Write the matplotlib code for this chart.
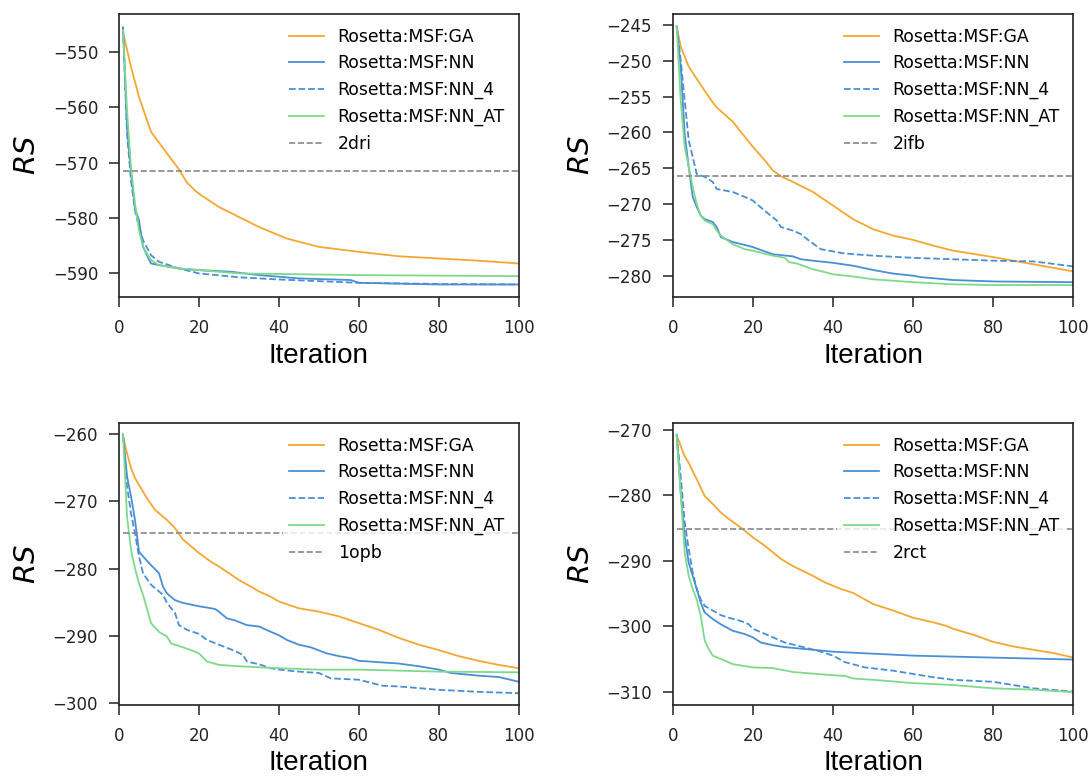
import matplotlib
matplotlib.use("Agg")
import matplotlib.pyplot as plt
from matplotlib.ticker import MultipleLocator

# ---------------- data ----------------
labels = ["Rosetta:MSF:GA", "Rosetta:MSF:NN", "Rosetta:MSF:NN_4", "Rosetta:MSF:NN_AT"]
ref_names = ["2dri", "2ifb", "1opb", "2rct"]
ref_values = [-571.5, -266.1, -274.8, -285.1]

# 2dri
x_2dri_ga = [1, 3, 5, 8, 12, 15, 17, 19, 20, 25, 30, 35, 40, 42, 50, 60, 70, 80, 90, 100]
y_2dri_ga = [-546.4, -552.7, -558.1, -564.4, -568.3, -571.2, -573.6, -575, -575.6, -578, -579.8,
             -581.6, -583.1, -583.7, -585.2, -586.1, -586.9, -587.3, -587.7, -588.2]
x_2dri_nn = [1, 2, 3, 4, 5, 6, 8, 10, 15, 20, 28, 35, 45, 58, 60, 80, 100]
y_2dri_nn = [-545.5, -563.5, -572, -578.3, -580.4, -585.2, -588.2, -588.5, -589.1, -589.4, -589.7,
             -590.3, -590.9, -591.2, -591.7, -592, -592]
x_2dri_nn4 = [1, 2, 3, 4, 5, 6, 8, 10, 15, 20, 30, 40, 60, 80, 100]
y_2dri_nn4 = [-545.5, -564.7, -573.2, -578.6, -581.6, -584, -586.7, -587.9, -589.1, -590, -590.7,
              -591.1, -591.7, -591.9, -592]
x_2dri_at = [1, 2, 3, 4, 5, 6, 8, 10, 15, 20, 30, 40, 60, 100]
y_2dri_at = [-546, -560.5, -570.8, -577.4, -582.2, -585.2, -587.6, -588.5, -589.1, -589.4, -590,
             -590.1, -590.3, -590.5]

# 2ifb
x_2ifb_ga = [1, 2, 4, 6, 8, 10, 11, 15, 20, 23, 25, 27, 30, 35, 40, 45, 50, 55, 60, 65, 70, 80, 90, 100]
y_2ifb_ga = [-245.2, -248, -250.8, -252.5, -254.2, -255.8, -256.5, -258.5, -262, -263.9, -265.3, -266.1,
             -266.9, -268.3, -270.2, -272.1, -273.5, -274.4, -275, -275.8, -276.5, -277.4, -278.4, -279.4]
x_2ifb_nn = [1, 2, 3, 4, 5, 6, 7, 8, 10, 11, 12, 15, 18, 20, 22, 25, 30, 32, 35, 40, 45, 50, 55, 60,
             62, 70, 80, 100]
y_2ifb_nn = [-245.2, -250.8, -260.2, -264.8, -269, -270.4, -271.6, -272.1, -272.5, -273.2, -274.6,
             -275.3, -275.7, -276, -276.4, -277, -277.3, -277.7, -277.9, -278.2, -278.6, -279.2,
             -279.7, -280, -280.2, -280.6, -280.8, -280.9]
x_2ifb_nn4 = [1, 2, 3, 4, 5, 6, 8, 10, 11, 15, 18, 20, 21, 24, 26, 27, 30, 32, 34, 37, 40, 43, 50,
              60, 70, 80, 90, 100]
y_2ifb_nn4 = [-245.2, -249.9, -255.5, -261.1, -263.4, -265.8, -266.2, -266.9, -267.9, -268.3, -269,
              -269.5, -270, -271.4, -272.3, -273.2, -273.7, -274.2, -275.1, -276.3, -276.6, -276.9,
              -277.2, -277.5, -277.7, -277.9, -278, -278.7]
x_2ifb_at = [1, 2, 3, 4, 5, 6, 7, 8, 10, 11, 12, 15, 18, 20, 25, 28, 29, 31, 35, 38, 40, 45, 50, 55,
             60, 70, 80, 100]
y_2ifb_at = [-245.2, -255.5, -262, -264.8, -267.6, -270, -271.6, -272.3, -272.8, -273.7, -274.4,
             -275.6, -276.3, -276.5, -277.2, -277.5, -278.1, -278.3, -279.1, -279.5, -279.8, -280.1,
             -280.5, -280.7, -280.9, -281.2, -281.3, -281.3]

# 1opb
x_1opb_ga = [1, 2, 3, 4, 5, 7, 9, 12, 14, 16, 18, 20, 23, 25, 28, 30, 33, 35, 38, 40, 45, 50, 55, 60,
             65, 70, 75, 80, 85, 90, 95, 100]
y_1opb_ga = [-260.4, -262.9, -265.1, -266.6, -267.6, -269.6, -271.3, -272.8, -274, -275.7, -276.7,
             -277.7, -279, -279.7, -280.9, -281.7, -282.7, -283.4, -284.2, -284.9, -285.9, -286.4,
             -287.1, -288.1, -289.1, -290.3, -291.3, -292.1, -293, -293.7, -294.3, -294.8]
x_1opb_nn = [1, 2, 3, 4, 5, 6, 8, 10, 11, 12, 14, 16, 20, 24, 25, 27, 29, 32, 35, 38, 40, 42, 45, 48,
             52, 55, 58, 60, 70, 75, 80, 83, 90, 95, 100]
y_1opb_nn = [-260.1, -266.3, -269.3, -272.8, -277.5, -278.2, -279.5, -280.7, -282.7, -283.7, -284.7,
             -285.1, -285.6, -286, -286.4, -287.4, -287.7, -288.4, -288.6, -289.4, -289.9, -290.6,
             -291.3, -291.7, -292.6, -293, -293.3, -293.7, -294.1, -294.5, -295, -295.5, -295.9,
             -296.1, -296.8]
x_1opb_nn4 = [1, 2, 3, 4, 5, 6, 8, 10, 11, 12, 14, 15, 17, 20, 22, 25, 28, 31, 32, 35, 38, 40, 45, 50,
              53, 60, 66, 70, 80, 90, 100]
y_1opb_nn4 = [-260.1, -267.8, -271.8, -274.8, -278.2, -280.7, -282.4, -283.4, -283.9, -285.1, -286.6,
              -288.4, -289.1, -289.7, -290.6, -291.3, -292, -292.8, -293.8, -294.2, -294.8, -295,
              -295.3, -295.5, -296.3, -296.5, -297.4, -297.5, -298, -298.3, -298.5]
x_1opb_at = [1, 2, 3, 4, 5, 6, 8, 10, 12, 13, 15, 18, 20, 22, 25, 30, 40, 50, 60, 80, 100]
y_1opb_at = [-260.1, -272.3, -277.2, -280, -282.2, -283.9, -288.1, -289.4, -290.1, -291.1, -291.5,
             -292.1, -292.6, -293.8, -294.3, -294.5, -294.8, -295, -295, -295.3, -295.4]

# 2rct
x_2rct_ga = [1, 2, 3, 4, 5, 6, 8, 10, 12, 14, 17, 20, 23, 25, 27, 30, 35, 38, 40, 42, 45, 50, 55, 60,
             65, 68, 70, 75, 80, 85, 90, 95, 100]
y_2rct_ga = [-270.8, -272.4, -274, -275, -276.3, -277.5, -280.1, -281.3, -282.6, -283.6, -284.9,
             -286.4, -287.7, -288.7, -289.7, -290.8, -292.3, -293.3, -293.8, -294.3, -294.9, -296.6,
             -297.6, -298.7, -299.4, -299.9, -300.4, -301.3, -302.4, -303.1, -303.6, -304.1, -304.8]
x_2rct_nn = [1, 2, 3, 4, 5, 6, 7, 8, 10, 12, 15, 18, 20, 22, 25, 28, 35, 40, 50, 60, 80, 100]
y_2rct_nn = [-270.7, -279.6, -286.2, -290.3, -292.3, -294.3, -296.4, -297.9, -298.9, -299.7, -300.7,
             -301.2, -301.7, -302.5, -302.9, -303.2, -303.6, -303.9, -304.2, -304.5, -304.8, -305.1]
x_2rct_nn4 = [1, 2, 3, 4, 5, 6, 7, 8, 10, 12, 14, 17, 19, 20, 22, 25, 28, 32, 37, 40, 43, 48, 55, 60,
              65, 70, 80, 83, 90, 100]
y_2rct_nn4 = [-270.7, -277, -284.1, -288.2, -291.8, -294.3, -295.9, -296.9, -297.6, -298.3, -298.7,
              -299.2, -299.7, -300.4, -300.9, -301.7, -302.5, -303.1, -303.9, -304.5, -305.5, -306.3,
              -306.8, -307.3, -307.8, -308.2, -308.5, -308.8, -309.5, -310]
x_2rct_at = [1, 2, 3, 4, 5, 6, 7, 8, 9, 10, 12, 15, 20, 25, 30, 40, 43, 45, 50, 60, 70, 80, 90, 100]
y_2rct_at = [-270.7, -279.6, -288.7, -292.3, -294.3, -295.9, -298.4, -302.2, -303.5, -304.5, -305,
             -305.8, -306.3, -306.4, -307, -307.5, -307.6, -308, -308.2, -308.7, -309, -309.5,
             -309.7, -310.1]

panels = [
    [(x_2dri_ga, y_2dri_ga), (x_2dri_nn, y_2dri_nn), (x_2dri_nn4, y_2dri_nn4), (x_2dri_at, y_2dri_at)],
    [(x_2ifb_ga, y_2ifb_ga), (x_2ifb_nn, y_2ifb_nn), (x_2ifb_nn4, y_2ifb_nn4), (x_2ifb_at, y_2ifb_at)],
    [(x_1opb_ga, y_1opb_ga), (x_1opb_nn, y_1opb_nn), (x_1opb_nn4, y_1opb_nn4), (x_1opb_at, y_1opb_at)],
    [(x_2rct_ga, y_2rct_ga), (x_2rct_nn, y_2rct_nn), (x_2rct_nn4, y_2rct_nn4), (x_2rct_at, y_2rct_at)],
]

# ---------------- style ----------------
colors = ["#F5A733", "#4A8FD6", "#4A8FD6", "#7FD98C"]
styles = ["-", "-", "--", "-"]
ylims = [(-594.3, -543.1), (-283.0, -243.45), (-300.25, -258.4), (-312.05, -268.9)]
ysteps = [10, 5, 10, 10]
rects = [
    (0.109, 0.617, 0.366, 0.365),
    (0.616, 0.617, 0.367, 0.365),
    (0.109, 0.0915, 0.366, 0.3635),
    (0.616, 0.0915, 0.367, 0.3635),
]

plt.rcParams["font.family"] = "DejaVu Sans"
plt.rcParams["mathtext.fontset"] = "dejavusans"

fig = plt.figure(figsize=(10.92, 7.76), dpi=100)

for i in range(4):
    ax = fig.add_axes(rects[i])
    for (xs, ys), c, ls, lab in zip(panels[i], colors, styles, labels):
        ax.plot(xs, ys, color=c, linestyle=ls, linewidth=1.3, label=lab)
    ax.plot([1, 100], [ref_values[i], ref_values[i]], color="#888888", linestyle="--",
            linewidth=1.2, label=ref_names[i])
    ax.set_xlim(0, 100)
    ax.set_ylim(*ylims[i])
    ax.xaxis.set_major_locator(MultipleLocator(20))
    ax.yaxis.set_major_locator(MultipleLocator(ysteps[i]))
    ax.tick_params(axis="both", direction="out", length=7.5, width=1.1, labelsize=12,
                   colors="#222222")
    ax.tick_params(axis="x", pad=8)
    ax.tick_params(axis="y", pad=7.5)
    for s in ax.spines.values():
        s.set_linewidth(1.2)
        s.set_color("#222222")
    ax.set_xlabel("Iteration", fontsize=20, family="Liberation Sans")
    ax.set_ylabel("$RS$", fontsize=21)
    ax.xaxis.set_label_coords(0.5, -0.16)
    ax.yaxis.set_label_coords(-0.195, 0.5)
    leg = ax.legend(loc="upper right", fontsize=12.4, frameon=True, borderaxespad=0.4,
                    framealpha=0.8, edgecolor="none", facecolor="white")

fig.savefig("out.png", dpi=100)
